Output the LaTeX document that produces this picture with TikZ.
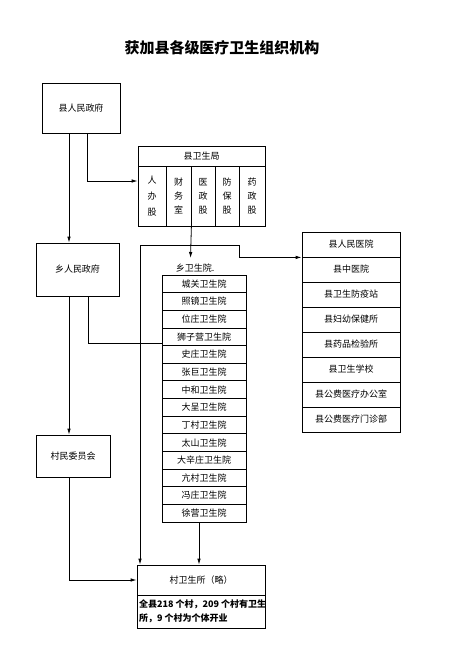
\documentclass[tikz,border=0pt]{standalone}
\usepackage{fontspec}
\newfontfamily\cjk{Noto Sans CJK SC}
\usetikzlibrary{arrows.meta}
\begin{document}
\begin{tikzpicture}[x=1pt,y=-1pt,
  font=\cjk\fontsize{9}{11}\selectfont,
  box/.style={draw=black, line width=0.8pt, rectangle, inner sep=0pt, anchor=center},
  conn/.style={draw=black, line width=0.8pt},
  arr/.style={conn, -{Latex[length=6pt,width=3.5pt]}},
  lbl/.style={inner sep=0pt}]
\useasboundingbox[fill=white] (0,0) rectangle (450,657);

% title
\node[lbl, font=\cjk\bfseries\fontsize{15}{17}\selectfont] (title) at (222,48) {获加县各级医疗卫生组织机构};

% county government
\node[box, minimum width=78, minimum height=50] (xgov) at (81,108) {县人民政府};

% county health bureau
\node[box, minimum width=127, minimum height=20] (bur) at (201.5,156) {县卫生局};
\node[box, minimum width=28, minimum height=60, align=center] (c1) at (152,196) {人\\[5pt]办\\[5pt]股};
\node[box, minimum width=25, minimum height=60, align=center] (c2) at (178.5,196) {财\\[3pt]务\\[3pt]室};
\node[box, minimum width=24, minimum height=60, align=center] (c3) at (203,196) {医\\[3pt]政\\[3pt]股};
\node[box, minimum width=24, minimum height=60, align=center] (c4) at (227,196) {防\\[3pt]保\\[3pt]股};
\node[box, minimum width=26, minimum height=60, align=center] (c5) at (252,196) {药\\[3pt]政\\[3pt]股};

% township government and village committee
\node[box, minimum width=83, minimum height=53] (xiang) at (77.5,269.5) {乡人民政府};
\node[box, minimum width=74, minimum height=42] (cunwei) at (73,456) {村民委员会};

% township hospitals
\node[lbl] (xlabel) at (195,268) {乡卫生院.};
\foreach \t [count=\i] in {城关卫生院,照镜卫生院,位庄卫生院,狮子营卫生院,史庄卫生院,张巨卫生院,中和卫生院,大呈卫生院,丁村卫生院,太山卫生院,大辛庄卫生院,亢村卫生院,冯庄卫生院,徐营卫生院}
  \node[box, minimum width=84, minimum height=17.64] (x\i) at (204,{275+17.64*(\i-0.5)}) {\t};

% county institutions
\foreach \t [count=\i] in {县人民医院,县中医院,县卫生防疫站,县妇幼保健所,县药品检验所,县卫生学校,县公费医疗办公室,县公费医疗门诊部}
  \node[box, minimum width=98, minimum height=25] (r\i) at (351,{232+25*(\i-0.5)}) {\t};

% village clinics
\node[box, minimum width=128, minimum height=30] (cws) at (201,580) {村卫生所（略）};
\node[box, minimum width=128, minimum height=33] (cwsb) at (201,611.5) {};
\node[lbl, anchor=west, align=left, font=\cjk\bfseries\fontsize{9}{14}\selectfont] (cwst) at (139,611) {全县218 个村，209 个村有卫生\\所，9 个村为个体开业};

% helper coordinates
\coordinate (v69) at (69,0);
\coordinate (v87) at (87,0);
\coordinate (v88) at (88,0);
\coordinate (v199) at (199,0);
\coordinate (h181) at (0,181);
\coordinate (h343) at (0,343);
\coordinate (jL) at (140,245);
\coordinate (jR) at (239,245);
\coordinate (aT) at (190.5,258);

% connectors
\draw[arr] (xgov.south -| v69) -- (xiang.north -| v69);
\draw[arr] (xgov.south -| v87) |- (c1.west |- h181);
\draw[arr] (c2.south east) -- (aT);
\draw[conn] (jL) -- (jR);
\draw[arr] (jR) |- (r1.south west);
\draw[arr] (jL) -- (cws.north -| jL);
\draw[arr] (xiang.south -| v69) -- (cunwei.north -| v69);
\draw[conn] (xiang.south -| v88) |- (x4.west |- h343);
\draw[arr] (x14.south -| v199) -- (cws.north -| v199);
\draw[arr] (cunwei.south -| v69) |- (cws.west);
\end{tikzpicture}
\end{document}
